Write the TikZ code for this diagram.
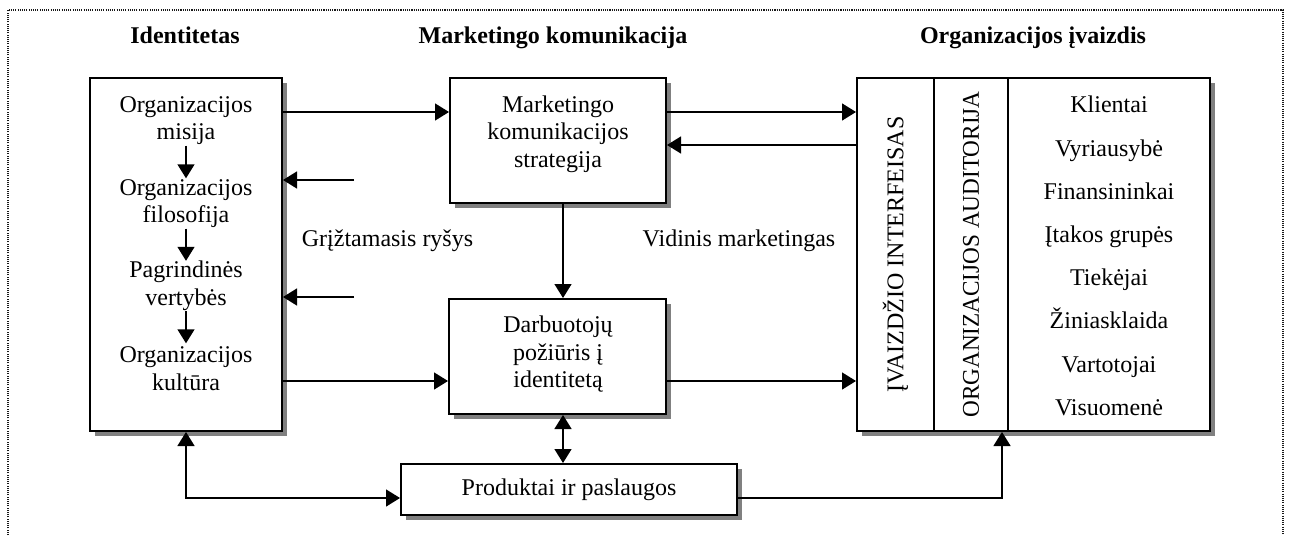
\documentclass[tikz,border=0pt]{standalone}
\usepackage{fontspec}
\usepackage{graphicx}
\setmainfont{Liberation Serif}
\usetikzlibrary{arrows.meta,shadows,calc}

\begin{document}
\begin{tikzpicture}[x=1pt,y=-1pt,
  every node/.style={font=\fontsize{24}{27.5}\selectfont},
  frame/.style={line width=1.1pt, dash pattern=on 1.1pt off 1.1pt, black!90},
  box/.style={draw, line width=2pt, fill=white, inner sep=0pt,
    general shadow={fill=black!50, shadow xshift=5pt, shadow yshift=-5pt}},
  col/.style={inner sep=0pt, minimum height=353pt},
  grp/.style={align=center, inner sep=0pt, minimum height=50pt},
  lbl/.style={align=center, inner sep=0pt},
  title/.style={font=\fontsize{24}{27.5}\selectfont\bfseries, anchor=base, inner sep=0pt},
  conn/.style={line width=1.4pt, -{Triangle[length=14pt,width=17pt]}},
  biconn/.style={line width=1.4pt, {Triangle[length=14pt,width=17pt]}-{Triangle[length=14pt,width=17pt]}},
  divider/.style={line width=1.5pt},
]
\useasboundingbox (0,0) rectangle (1289,535);

% outer dotted frame (open at the bottom)
\draw[frame] (8,535) -- (8,10) -- (1283,10) -- (1283,535);

% column titles
\node[title] (tid)  at (185,44)  {Identitetas};
\node[title] (tmk)  at (553,44)  {Marketingo komunikacija};
\node[title] (timg) at (1033,44) {Organizacijos įvaizdis};

% identity box with its four stages
\node[box, minimum width=192pt, minimum height=353pt] (ident) at (186,254.5) {};
\node[grp] (g1) at (186,120.5) {Organizacijos\\misija};
\node[grp] (g2) at (186,203.5) {Organizacijos\\filosofija};
\node[grp] (g3) at (186,286)   {Pagrindinės\\vertybės};
\node[grp] (g4) at (186,368.5) {Organizacijos\\kultūra};
\draw[conn] (g1.south) -- (g2.north);
\draw[conn] (g2.south) -- (g3.north);
\draw[conn] (g3.south) -- (g4.north);

% marketing communication boxes
\node[box, minimum width=216pt, minimum height=125pt] (mk) at (558,140.5) {};
\node[grp] (mkt) at (558,134) {Marketingo\\komunikacijos\\strategija};
\node[box, minimum width=217pt, minimum height=115pt] (db) at (557.5,356.5) {};
\node[grp] (dbt) at (558,354.5) {Darbuotojų\\požiūris į\\identitetą};
\node[box, minimum width=336pt, minimum height=51pt] (prod) at (569,489.5) {Produktai ir paslaugos};

% image box: interface, audience, audience groups
\node[box, minimum width=353pt, minimum height=353pt] (img) at (1033.5,254.5) {};
\node[col, minimum width=77pt]  (col1) at (895.5,254.5) {};
\node[col, minimum width=74pt]  (col2) at (971,254.5) {};
\node[col, minimum width=202pt] (col3) at (1109,254.5) {};
\draw[divider] (col1.north east) -- (col1.south east);
\draw[divider] (col2.north east) -- (col2.south east);
\node[rotate=90, inner sep=0pt] (ifc) at (col1) {ĮVAIZDŽIO INTERFEISAS};
\node[rotate=90, inner sep=0pt] (aud) at (col2) {\scalebox{0.967}[1]{ORGANIZACIJOS AUDITORIJA}};
\node[lbl, font=\fontsize{24}{43.2}\selectfont] (grps) at (1109,256)
  {Klientai\\Vyriausybė\\Finansininkai\\Įtakos grupės\\Tiekėjai\\Žiniasklaida\\Vartotojai\\Visuomenė};

% free labels
\node[lbl] (fbl) at (387.5,241) {Grįžtamasis ryšys};
\node[lbl] (vml) at (739,241) {Vidinis marketingas};

% helper levels for the connectors
\coordinate (yA) at (0,112);
\coordinate (yB) at (0,145);
\coordinate (yC) at (0,381);
\coordinate (yD) at (0,498);
\coordinate (xm) at (563,0);
\coordinate (xr) at (1002,0);
\coordinate (fb1) at (354,180);
\coordinate (fb2) at (354,297);

% connectors
\draw[conn] (ident.east |- yA) -- (mk.west |- yA);
\draw[conn] (fb1) -- (ident.east |- fb1);
\draw[conn] (fb2) -- (ident.east |- fb2);
\draw[conn] (ident.east |- yC) -- (db.west |- yC);
\draw[conn] (mk.east |- yA) -- (img.west |- yA);
\draw[conn] (img.west |- yB) -- (mk.east |- yB);
\draw[conn] (db.east |- yC) -- (img.west |- yC);
\draw[conn] (mk.south -| xm) -- (db.north -| xm);
\draw[biconn] (db.south -| xm) -- (prod.north -| xm);
\draw[biconn] (ident.south) -- (ident.south |- yD) -- (prod.west |- yD);
\draw[conn] (prod.east |- yD) -- (xr |- yD) -- (img.south -| xr);
\end{tikzpicture}
\end{document}
